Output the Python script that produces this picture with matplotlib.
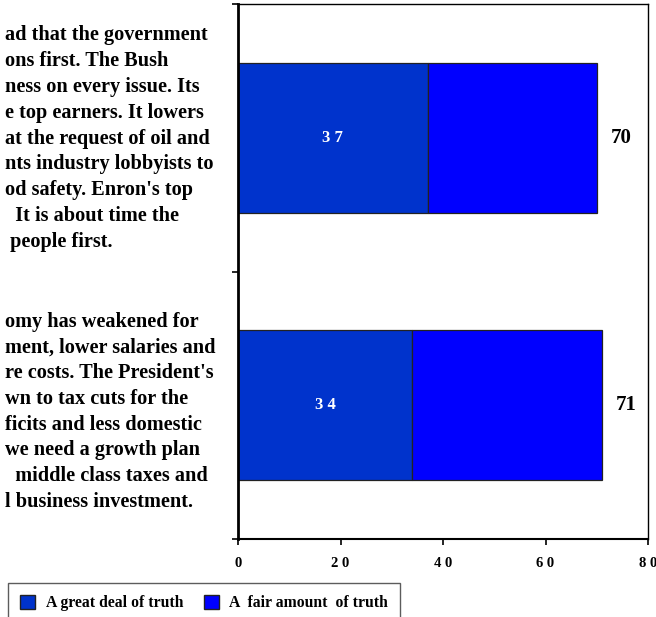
import matplotlib.pyplot as plt
from matplotlib.patches import Patch

# Chart data
categories = ['Bush record', 'Economy']
great_deal = [37, 34]
fair_amount = [33, 37]
totals = [70, 71]
x_ticks = [0, 20, 40, 60, 80]
x_tick_labels = ['0', '2 0', '4 0', '6 0', '8 0']
series_names = ['A great deal of truth', 'A  fair amount  of truth']

# Statement text (cut off at the left edge, as in the source)
text_top = ['ad that the government', 'ons first. The Bush', 'ness on every issue. Its',
            'e top earners. It lowers', 'at the request of oil and', 'nts industry lobbyists to',
            'od safety. Enron\'s top', '  It is about time the', ' people first.']
text_bottom = ['omy has weakened for', 'ment, lower salaries and', 're costs. The President\'s',
               'wn to tax cuts for the', 'ficits and less domestic', 'we need a growth plan',
               '  middle class taxes and', 'l business investment.']

dark_blue = '#0033CC'
blue = '#0000FF'
serif = 'Liberation Serif'

W, H = 656, 617
fig = plt.figure(figsize=(W / 100, H / 100), dpi=100)
ax = fig.add_axes([238 / W, 1 - 539 / H, 410 / W, 535 / H])

ypos = list(range(len(categories)))
ax.barh(ypos, great_deal, height=0.56, color=dark_blue, edgecolor='#222222', linewidth=0.9)
ax.barh(ypos, fair_amount, left=great_deal, height=0.56, color=blue, edgecolor='#222222', linewidth=0.9)

# Value labels
for i in ypos:
    ax.text(great_deal[i] / 2, i, ' '.join(str(great_deal[i])), color='white', ha='center', va='center',
            fontsize=12, fontweight='bold', family=serif)
    ax.text(totals[i] + 2.8, i, str(totals[i]), color='black', ha='left', va='center',
            fontsize=15, fontweight='bold', family=serif)

ax.set_xlim(0, 80)
ax.set_ylim(1.5, -0.5)
ax.set_xticks(x_ticks)
ax.set_xticklabels(x_tick_labels, fontsize=10.5, fontweight='bold', family=serif)
ax.set_yticks([-0.5, 0.5, 1.5])
ax.set_yticklabels([])
ax.tick_params(direction='out', length=4, width=1.2, colors='black', pad=9)
ax.spines['left'].set_linewidth(2)
ax.spines['bottom'].set_linewidth(1.5)
ax.spines['top'].set_linewidth(1)
ax.spines['right'].set_linewidth(1)

# Statement text on the left
for k, line in enumerate(text_top):
    fig.text(5 / W, 1 - (35 + k * 25.9) / H, line, ha='left', va='center',
             fontsize=14.6, fontweight='bold', family=serif)
for k, line in enumerate(text_bottom):
    fig.text(5 / W, 1 - (322 + k * 25.7) / H, line, ha='left', va='center',
             fontsize=14.6, fontweight='bold', family=serif)

# Legend at the bottom, running off the page
handles = [Patch(facecolor=dark_blue, edgecolor='#222222'), Patch(facecolor=blue, edgecolor='#222222')]
leg = fig.legend(handles, series_names, loc='upper left', bbox_to_anchor=(8 / W, 1 - 583 / H),
                 ncol=2, frameon=True, fancybox=False, borderaxespad=0, borderpad=0.75,
                 handlelength=1.0, handleheight=1.0, handletextpad=0.65, columnspacing=1.3,
                 prop={'family': serif, 'weight': 'bold', 'size': 11.3})
leg.get_frame().set_edgecolor('#333333')
leg.get_frame().set_linewidth(1)

plt.savefig('out.png', dpi=100)
plt.close()
